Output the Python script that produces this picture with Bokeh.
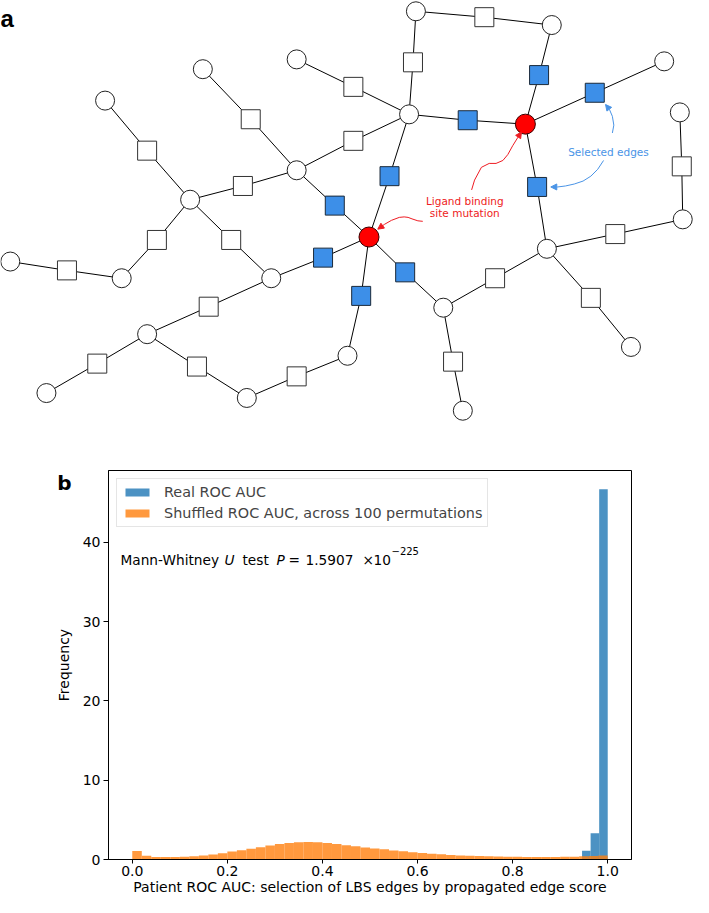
import numpy as np
from bokeh.plotting import figure
from bokeh.layouts import column
from bokeh.models import Range1d, Label, Arrow, NormalHead, FixedTicker, PrintfTickFormatter, LinearAxis
from bokeh.embed import file_html
from bokeh.resources import INLINE
from bokeh.core.properties import value

# ---------------- Panel a: network (node / edge positions) -------------
node_x = [303, 207, 107, 425, 564, 679, 695, 418, 303, 194, 10, 124, 277, 150, 47, 252, 355, 453, 473, 559, 698, 645, 537, 377]
node_y = [60, 70, 102, 11, 25, 62, 114, 116, 173, 203, 266, 283, 283, 340, 400, 405, 362, 313, 418, 253, 223, 353, 126, 241]
node_mutated = [0] * 22 + [1, 1]

edge_a = [0, 1, 8, 2, 9, 8, 3, 3, 4, 7, 22, 7, 22, 6, 19, 9, 9, 10, 12, 12, 13, 13, 15, 16, 23, 17, 19, 17]
edge_b = [7, 8, 7, 9, 8, 23, 4, 7, 22, 22, 5, 23, 19, 20, 20, 11, 12, 11, 23, 13, 14, 15, 16, 23, 17, 19, 21, 18]
square_x = [361, 256, 361, 150, 248, 342, 495, 422, 551, 478, 608, 398, 549, 697, 629, 160, 236, 68, 330, 213, 99, 201, 303, 369, 414, 506, 604, 463]
square_y = [88, 121, 143, 153, 189, 209, 17, 63, 76, 122, 94, 179, 190, 169, 238, 244, 244, 275, 262, 312, 370, 373, 383, 301, 277, 283, 303, 368]
square_selected = [0, 0, 0, 0, 0, 1, 0, 0, 1, 1, 1, 1, 1, 0, 0, 0, 0, 0, 1, 0, 0, 0, 0, 1, 1, 0, 0, 0]

# ---------------- Panel b: histogram values -------------
bin_width = 0.02
shuffled_freq = [1.06, 0.47, 0.33, 0.30, 0.31, 0.36, 0.42, 0.50, 0.62, 0.80,
                 1.00, 1.18, 1.36, 1.56, 1.76, 1.95, 2.08, 2.18, 2.20, 2.16,
                 2.08, 1.96, 1.80, 1.66, 1.52, 1.40, 1.28, 1.15, 1.03, 0.92,
                 0.82, 0.73, 0.65, 0.58, 0.52, 0.47, 0.43, 0.40, 0.37, 0.35,
                 0.34, 0.33, 0.32, 0.32, 0.33, 0.34, 0.36, 0.40, 0.45, 0.52]
real_left = [0.946, 0.964, 0.982]
real_right = [0.964, 0.982, 1.0]
real_freq = [1.1, 3.3, 46.7]
x_ticks = [0.0, 0.2, 0.4, 0.6, 0.8, 1.0]
y_ticks = [0, 10, 20, 30, 40]

BLUE_SEL = "#3d8fe8"
RED = "#ee1b22"
TXT = "14px"

# ================= figure a =================
A_H = 422
A_YMAX = 430
fa = figure(width=693, height=A_H, x_range=Range1d(0, 709), y_range=Range1d(A_YMAX, 0),
            output_backend="svg", toolbar_location=None, min_border=0)
fa.axis.visible = False
fa.grid.visible = False
fa.outline_line_color = None

nx = np.array(node_x, dtype=float)
ny = np.array(node_y, dtype=float)
ea = np.array(edge_a)
eb = np.array(edge_b)
sx = np.array(square_x, dtype=float)
sy = np.array(square_y, dtype=float)
sel = np.array(square_selected, dtype=bool)
mut = np.array(node_mutated, dtype=bool)

fa.segment(x0=nx[ea], y0=ny[ea], x1=sx, y1=sy, line_color="black", line_width=1)
fa.segment(x0=sx, y0=sy, x1=nx[eb], y1=ny[eb], line_color="black", line_width=1)

fa.scatter(sx[~sel], sy[~sel], marker="square", size=19, fill_color="white", line_color="#333333", line_width=1)
fa.scatter(sx[sel], sy[sel], marker="square", size=19, fill_color=BLUE_SEL, line_color="#1b2a3a", line_width=1)
fa.scatter(nx[~mut], ny[~mut], marker="circle", size=19, fill_color="white", line_color="#222222", line_width=1)
fa.scatter(nx[mut], ny[mut], marker="circle", size=20, fill_color="#ff0000", line_color="#3a0000", line_width=1)

# annotation curves
red_curves = [
    ([482, 485, 492, 500, 507, 514, 519, 524, 529], [193, 183, 170, 166, 166, 163, 157, 148, 140], (533, 134)),
    ([432, 427, 421, 417, 413, 408, 400, 393], [225, 224.5, 222.5, 221, 220.5, 221, 224, 228], (386, 233)),
]
blue_curves = [
    ([626, 627.5, 626, 623], [135, 127, 118, 111], (619, 106)),
    ([617, 611, 604, 596, 587, 578, 570], [163, 172, 179, 184, 187, 189, 190], (563, 190)),
]
for curves, col in ((red_curves, RED), (blue_curves, "#4a94e6")):
    for xs, ys, tip in curves:
        fa.line(xs, ys, line_color=col, line_width=1)
        fa.add_layout(Arrow(end=NormalHead(size=6, fill_color=col, line_color=col),
                            x_start=xs[-1], y_start=ys[-1], x_end=tip[0], y_end=tip[1],
                            line_color=col, line_width=1))

fa.text(x=[475, 475], y=[204, 217], text=["Ligand binding", "site mutation"],
        text_color=RED, text_font=value("DejaVu Sans"), text_font_size="10.5px",
        text_align="center", text_baseline="middle")
fa.text(x=[622], y=[154], text=["Selected edges"],
        text_color="#4a94e6", text_font=value("DejaVu Sans"), text_font_size="10.5px",
        text_align="center", text_baseline="middle")
fa.text(x=[0], y=[18.5], text=["a"], text_color="black", text_font=value("Liberation Sans"),
        text_font_size="24px", text_font_style="bold", text_align="left", text_baseline="alphabetic")

# ================= figure b =================
FRAME_L, FRAME_R, FRAME_T, FRAME_B = 116, 639, 478, 868
B_TOP = 8 + A_H
XMIN, XMAX, YMAX = -0.05, 1.05, 49.05


def bx(px):
    return XMIN + (px - FRAME_L) / (FRAME_R - FRAME_L) * (XMAX - XMIN)


def by(py):
    return (FRAME_B - py) / (FRAME_B - FRAME_T) * YMAX


fb = figure(width=693, height=905 - B_TOP, x_range=Range1d(XMIN, XMAX), y_range=Range1d(0, YMAX),
            output_backend="svg", toolbar_location=None,
            min_border_left=FRAME_L - 8, min_border_right=701 - FRAME_R,
            min_border_top=FRAME_T - B_TOP, min_border_bottom=905 - FRAME_B)
fb.grid.visible = False
fb.outline_line_color = "black"
fb.outline_line_width = 1

for f in (fa, fb):
    try:
        f.frame_align = False
    except Exception:
        pass

left_edges = np.arange(len(shuffled_freq)) * bin_width
fb.quad(left=real_left, right=real_right, bottom=0, top=real_freq,
        fill_color="#1f77b4", fill_alpha=0.8, line_color=None, legend_label="Real ROC AUC")
fb.quad(left=left_edges, right=left_edges + bin_width, bottom=0, top=shuffled_freq,
        fill_color="#ff7f0e", fill_alpha=0.8, line_color=None,
        legend_label="Shuffled ROC AUC, across 100 permutations")

for ax in (fb.xaxis[0], fb.yaxis[0]):
    ax.axis_line_color = "black"
    ax.major_tick_line_color = "black"
    ax.minor_tick_line_color = None
    ax.major_tick_in = 0
    ax.major_label_text_font = "DejaVu Sans"
    ax.major_label_text_font_size = TXT
    ax.major_label_text_color = "black"
    ax.axis_label_text_font = "DejaVu Sans"
    ax.axis_label_text_font_size = TXT
    ax.axis_label_text_font_style = "normal"
    ax.axis_label_text_color = "black"

fb.xaxis.ticker = FixedTicker(ticks=x_ticks)
fb.xaxis.formatter = PrintfTickFormatter(format="%.1f")
fb.xaxis.major_tick_out = 4
fb.xaxis.major_label_standoff = 2
fb.xaxis.axis_label_standoff = 0
fb.xaxis.axis_label = "Patient ROC AUC: selection of LBS edges by propagated edge score"

fb.yaxis.ticker = FixedTicker(ticks=y_ticks)
fb.yaxis.major_tick_out = 5
fb.yaxis.major_label_standoff = 3
fb.yaxis.axis_label_standoff = 8
fb.yaxis.axis_label = "Frequency"

# panel letter "b" drawn as the single tick label of an extra, line-less left axis
B_TICK = 47.5
b_axis = LinearAxis(ticker=FixedTicker(ticks=[B_TICK]), major_label_overrides={B_TICK: "b"})
b_axis.axis_line_color = None
b_axis.major_tick_line_color = None
b_axis.minor_tick_line_color = None
b_axis.major_tick_out = 0
b_axis.major_tick_in = 0
b_axis.major_label_standoff = -19
b_axis.major_label_text_font = "DejaVu Sans"
b_axis.major_label_text_font_size = "20px"
b_axis.major_label_text_font_style = "bold"
b_axis.major_label_text_color = "black"
fb.add_layout(b_axis, "left")

lg = fb.legend[0]
lg.location = "top_left"
lg.margin = 8
lg.padding = 5
lg.spacing = 5
lg.glyph_width = 30
lg.glyph_height = 10
lg.label_height = 16
lg.label_standoff = 12
lg.label_text_font = "DejaVu Sans"
lg.label_text_font_size = "14.4px"
lg.border_line_color = "#cccccc"
lg.border_line_width = 1
lg.background_fill_alpha = 0.8

MW = "13.7px"
TEXT_BASE = by(568)
SUP_BASE = by(558.5)
pieces = [
    ("Mann-Whitney", 128, TEXT_BASE, "normal", MW),
    ("U", 232, TEXT_BASE, "italic", MW),
    ("test", 250, TEXT_BASE, "normal", MW),
    ("P", 284, TEXT_BASE, "italic", MW),
    ("=", 296, TEXT_BASE, "normal", MW),
    ("1.5907", 313, TEXT_BASE, "normal", MW),
    ("\u00d7", 370, TEXT_BASE, "normal", MW),
    ("10", 381, TEXT_BASE, "normal", MW),
    ("\u2212225", 399, SUP_BASE, "normal", "10px"),
]
for txt, px, yb, style, size in pieces:
    fb.add_layout(Label(x=bx(px), y=yb, text=txt, text_font="DejaVu Sans", text_font_size=size,
                        text_font_style=style, text_color="black", text_baseline="alphabetic",
                        text_align="left"))

layout = column(fa, fb)
open("out.html", "w").write(file_html(layout, INLINE))
